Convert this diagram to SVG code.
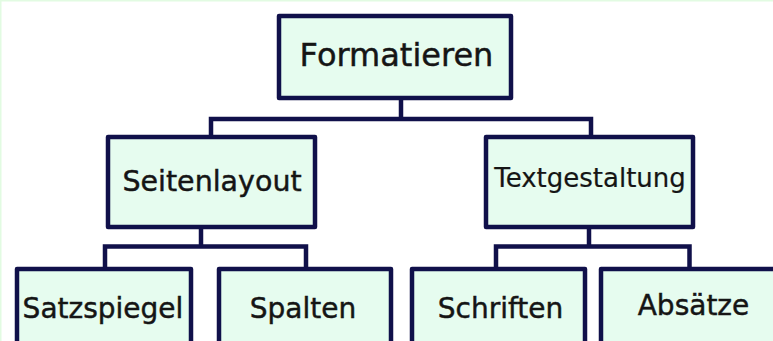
<svg xmlns="http://www.w3.org/2000/svg" width="773" height="341" viewBox="0 0 773 341">
  <style>
    .box { fill: #e6fcef; stroke: #10104a; stroke-width: 4.5; stroke-linejoin: round; }
    .conn { fill: none; stroke: #10104a; stroke-width: 4.5; }
    .lbl { font-family: "DejaVu Sans", Verdana, sans-serif; fill: #151515; stroke: #151515; stroke-width: 0.45; text-anchor: middle; }
    .thin { stroke-width: 0.2; }
  </style>
  <rect width="773" height="341" fill="#ffffff"/>
  <!-- faint frame along the top and left edges -->
  <path d="M0.75 341 V0.75 H773" fill="none" stroke="#e2fbe2" stroke-width="1.5"/>

  <g id="connectors">
    <path class="conn" d="M401 100 V119"/>
    <path class="conn" d="M211 137 V119 H591 V137"/>
    <path class="conn" d="M201 229 V246.5"/>
    <path class="conn" d="M105 267 V246.5 H306 V267"/>
    <path class="conn" d="M589 229 V246.5"/>
    <path class="conn" d="M496 267 V246.5 H689.5 V267"/>
  </g>

  <g id="formatieren">
    <rect class="box" x="279" y="16" width="232" height="82"/>
    <text class="lbl" x="396.5" y="66" font-size="32">Formatieren</text>
  </g>
  <g id="seitenlayout">
    <rect class="box" x="108" y="137" width="207" height="90"/>
    <text class="lbl" x="212" y="191" font-size="28.5">Seitenlayout</text>
  </g>
  <g id="textgestaltung">
    <rect class="box" x="486" y="137" width="207" height="90"/>
    <text class="lbl thin" x="590" y="187" font-size="26">Textgestaltung</text>
  </g>
  <g id="satzspiegel">
    <rect class="box" x="17" y="269" width="174" height="100"/>
    <text class="lbl" x="103" y="318" font-size="28">Satzspiegel</text>
  </g>
  <g id="spalten">
    <rect class="box" x="219" y="269" width="172" height="100"/>
    <text class="lbl" x="303" y="318" font-size="28">Spalten</text>
  </g>
  <g id="schriften">
    <rect class="box" x="412" y="269" width="173" height="100"/>
    <text class="lbl" x="500.5" y="318" font-size="28">Schriften</text>
  </g>
  <g id="absaetze">
    <rect class="box" x="601" y="269" width="190" height="100"/>
    <text class="lbl" x="693.5" y="315" font-size="28">Absätze</text>
  </g>
</svg>
